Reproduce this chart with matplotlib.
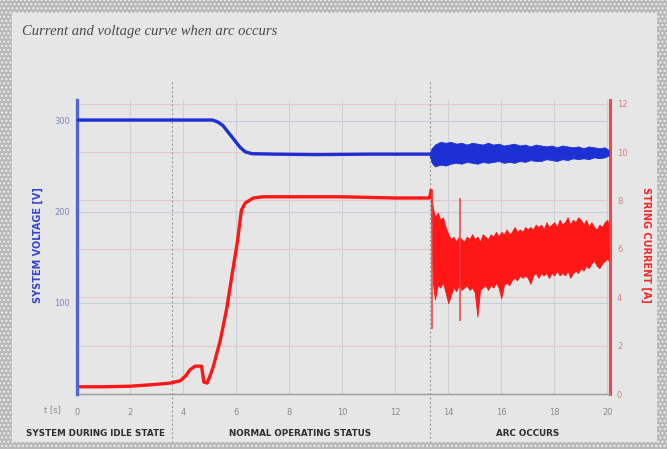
import matplotlib
matplotlib.use("Agg")
import matplotlib.pyplot as plt
from matplotlib.patches import Rectangle
from matplotlib.transforms import blended_transform_factory

# ---------------- data ----------------
title = "Current and voltage curve when arc occurs"
x_ticks = [0, 2, 4, 6, 8, 10, 12, 14, 16, 18, 20]
v_ticks = [100, 200, 300]
a_ticks = [0, 2, 4, 6, 8, 10, 12]
section_labels = ["SYSTEM DURING IDLE STATE", "NORMAL OPERATING STATUS", "ARC OCCURS"]
section_bounds = [3.6, 13.3]

# voltage before the arc [V]
volt_t = [0, 2, 4, 5.1, 5.3, 5.5, 5.8, 6.15, 6.35, 6.6, 7.5, 9, 11, 13.3]
volt_v = [301, 301, 301, 301, 299, 295, 284, 271, 266, 264, 263.5, 263, 263.5, 263.5]

# voltage envelope during the arc [V]
varc_t = [13.3, 13.38, 13.5, 13.7, 13.9, 14.1, 14.3, 14.5, 14.7, 14.9, 15.1, 15.3,
          15.5, 15.7, 15.9, 16.1, 16.3, 16.5, 16.7, 16.9, 17.1, 17.3, 17.5, 17.7,
          17.9, 18.1, 18.3, 18.5, 18.7, 18.9, 19.1, 19.3, 19.5, 19.7, 19.9, 20.05]
varc_hi = [265, 270, 274, 277, 276, 277, 275, 276, 274, 276, 275, 274,
           276, 274, 275, 273, 274, 275, 273, 274, 272, 274, 273, 272,
           273, 271, 273, 272, 271, 272, 270, 272, 271, 270, 271, 268]
varc_lo = [262, 254, 250, 252, 251, 253, 254, 253, 255, 254, 253, 255,
           254, 255, 256, 254, 255, 254, 256, 255, 257, 256, 256, 258,
           257, 256, 258, 257, 259, 258, 259, 258, 260, 259, 260, 262]

# current before the arc [A]
cur_t = [0, 1, 2, 3, 3.5, 3.9, 4.1, 4.26, 4.45, 4.7, 4.78, 4.9, 5.0, 5.13, 5.4,
         5.65, 5.85, 6.05, 6.2, 6.35, 6.65, 7, 8, 10, 12, 13.3, 13.35]
cur_a = [0.3, 0.3, 0.32, 0.4, 0.45, 0.55, 0.75, 1.0, 1.15, 1.15, 0.5, 0.45, 0.7, 1.1, 2.2,
         3.55, 4.95, 6.3, 7.6, 7.9, 8.1, 8.15, 8.15, 8.15, 8.1, 8.1, 8.4]

# current envelope during the arc [A]
carc_t = [13.35, 13.42, 13.5, 13.6, 13.7, 13.8, 13.9, 14.0, 14.1, 14.2,
          14.3, 14.4, 14.5, 14.6, 14.7, 14.8, 14.9, 15.0, 15.1, 15.2,
          15.3, 15.4, 15.5, 15.6, 15.7, 15.8, 15.9, 16.0, 16.1, 16.2,
          16.3, 16.4, 16.5, 16.6, 16.7, 16.8, 16.9, 17.0, 17.1, 17.2,
          17.3, 17.4, 17.5, 17.6, 17.7, 17.8, 17.9, 18.0, 18.1, 18.2,
          18.3, 18.4, 18.5, 18.6, 18.7, 18.8, 18.9, 19.0, 19.1, 19.2,
          19.3, 19.4, 19.5, 19.6, 19.7, 19.8, 19.9, 20.0, 20.05]
carc_hi = [8.4, 7.7, 7.3, 7.5, 7.2, 7.3, 6.9, 6.6, 6.4, 6.5,
           6.3, 6.5, 6.4, 6.3, 6.5, 6.4, 6.6, 6.4, 6.5, 6.3,
           6.6, 6.5, 6.4, 6.6, 6.5, 6.7, 6.5, 6.7, 6.6, 6.8,
           6.6, 6.7, 6.9, 6.7, 6.8, 6.7, 6.9, 6.8, 6.9, 6.8,
           7.0, 6.9, 7.0, 6.8, 7.1, 6.9, 7.0, 7.1, 6.9, 7.2,
           7.0, 7.1, 7.3, 7.0, 7.2, 7.1, 7.3, 7.2, 7.0, 7.2,
           6.9, 7.1, 6.9, 6.8, 7.0, 6.9, 7.1, 7.2, 7.0]
carc_lo = [7.9, 4.6, 3.9, 4.5, 4.4, 4.6, 4.2, 3.75, 4.1, 4.4,
           4.25, 4.5, 4.3, 4.4, 4.5, 4.3, 4.4, 4.2, 3.2, 4.3,
           4.4, 4.5, 4.3, 4.5, 4.4, 4.6, 4.4, 3.95, 4.5, 4.6,
           4.5, 4.7, 4.8, 4.7, 4.9, 4.8, 4.9, 4.8, 4.55, 4.9,
           5.0, 4.8, 5.0, 4.9, 5.0, 4.8, 5.0, 4.9, 5.1, 4.9,
           5.0, 4.9, 5.1, 4.8, 5.0, 5.1, 5.0, 5.2, 5.1, 5.3,
           5.2, 5.4, 5.5, 5.3, 5.2, 5.4, 5.5, 5.6, 5.5]

# thin spikes at the arc [A]
spike_t = [13.38, 14.45]
spike_top = [8.4, 8.1]
spike_bot = [2.7, 3.0]

# ---------------- figure ----------------
W, H = 667, 449
fig = plt.figure(figsize=(W / 100, H / 100), dpi=100)
fig.patch.set_facecolor("#b8b8b8")
fig.add_artist(Rectangle((0, 0), 1, 1, transform=fig.transFigure, facecolor="none",
                         edgecolor="#f0f0f0", hatch="....", lw=0, zorder=0))
fig.add_artist(Rectangle((12 / W, 1 - 442 / H), (657 - 12) / W, (442 - 13) / H,
                         transform=fig.transFigure, facecolor="#e6e6e6",
                         edgecolor="none", zorder=1))

L, R, T, B = 77, 610, 100, 394
pos = [L / W, 1 - B / H, (R - L) / W, (B - T) / H]
# current axis underneath (carries the grid), voltage axis on top
ax2 = fig.add_axes(pos, zorder=2)
ax = fig.add_axes(pos, zorder=3, sharex=ax2)
for a in (ax, ax2):
    a.set_facecolor("none")
ax.set_xlim(0, 20.1)
ax.set_ylim(0, 323)
ax2.set_ylim(0, 12.15)
ax2.yaxis.tick_right()
ax2.yaxis.set_label_position("right")

VBLUE = "#1c30d4"
RED = "#ff1616"

# grids (all on the bottom axis)
ax2.vlines(x_ticks[1:], 0, 12.15, color="#cfcfd6", lw=0.8, zorder=0)
ax2.hlines(v_ticks, 0, 20.1, color="#c9cbdc", lw=0.8, zorder=0, transform=ax.transData)
ax2.hlines(a_ticks[1:], 0, 20.1, color="#e6c6c6", lw=0.8, zorder=0)

# current
ax2.plot(cur_t, cur_a, color=RED, lw=2.4, zorder=3)
ax2.fill_between(carc_t, carc_lo, carc_hi, color=RED, lw=0.6, zorder=3)
ax2.vlines(spike_t, spike_bot, spike_top, color="#f04040", lw=1.1, zorder=3)

# voltage
ax.plot(volt_t, volt_v, color=VBLUE, lw=2.4, zorder=3)
ax.fill_between(varc_t, varc_lo, varc_hi, color=VBLUE, lw=0.6, zorder=3)

# spines
for a in (ax, ax2):
    a.spines["top"].set_visible(False)
ax.spines["right"].set_visible(False)
ax.spines["left"].set_color("#5064d6")
ax.spines["left"].set_linewidth(2.4)
ax2.spines["left"].set_visible(False)
ax2.spines["right"].set_color("#f04848")
ax2.spines["right"].set_linewidth(2.2)
ax2.spines["bottom"].set_color("#9a9a9a")
ax2.spines["bottom"].set_linewidth(1.0)
ax.spines["bottom"].set_visible(False)

tickfont = dict(family=["Liberation Sans Narrow", "DejaVu Sans"], size=6)
ax2.set_xticks(x_ticks)
ax2.set_xticklabels([str(v) for v in x_ticks], color="#8a8a8a", **tickfont)
ax.tick_params(axis="x", labelbottom=False, length=0)
ax.set_yticks(v_ticks)
ax.set_yticklabels([str(v) for v in v_ticks], color="#7f88bf", **tickfont)
ax2.set_yticks(a_ticks)
ax2.set_yticklabels([str(v) for v in a_ticks], color="#d98080", **tickfont)
ax2.tick_params(axis="x", length=0, pad=10)
ax.tick_params(axis="y", length=0, pad=5)
ax2.tick_params(axis="y", length=0, pad=5)

lab = dict(family=["Liberation Sans Narrow", "DejaVu Sans"], size=7, weight="bold")
fig.text(38 / W, 1 - 245 / H, "SYSTEM VOLTAGE [V]", rotation=90, color="#3446d0",
         ha="center", va="center", **lab)
fig.text(646 / W, 1 - 245 / H, "STRING CURRENT [A]", rotation=270, color="#ee2a2a",
         ha="center", va="center", **lab)
fig.text(52 / W, 1 - 410 / H, "t [s]", color="#8a8a8a", ha="center", va="center", **tickfont)

# title
fig.text(22 / W, 1 - 32 / H, title, family=["Liberation Serif", "DejaVu Serif"],
         style="italic", size=10.5, color="#4a4a4a", ha="left", va="center")

# section dividers and labels
tr = blended_transform_factory(ax.transData, fig.transFigure)
for xb in section_bounds:
    ax2.plot([xb, xb], [1 - 82 / H, 1 - 442 / H], transform=tr, color="#9a9a9a",
             lw=0.9, ls=(0, (1.5, 2)), clip_on=False, zorder=1)
sec_x = [96, 300, 528]
for sx, s in zip(sec_x, section_labels):
    fig.text(sx / W, 1 - 433 / H, s, color="#2e2e2e", ha="center", va="center",
             family=["Liberation Sans Narrow", "DejaVu Sans"], size=6.3, weight="bold")

fig.savefig("out.png", dpi=100, facecolor=fig.get_facecolor())
